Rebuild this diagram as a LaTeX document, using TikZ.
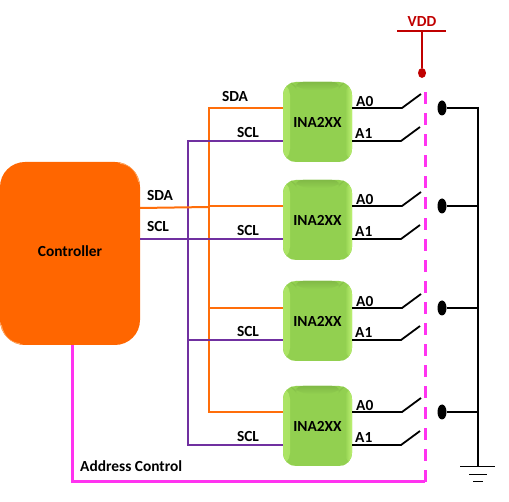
\documentclass[tikz,border=0pt]{standalone}
\usepackage{fontspec}
\setmainfont{Carlito}
\usepackage{xcolor}
\usetikzlibrary{positioning, shapes.geometric}
\definecolor{chipcolor}{RGB}{146,208,80}
\definecolor{chipedge}{RGB}{190,242,115}
\definecolor{chiptop}{RGB}{128,184,70}
\definecolor{ctrlcolor}{RGB}{255,102,0}
\definecolor{ctrledge}{RGB}{255,170,100}
\definecolor{sdacolor}{RGB}{255,110,10}
\definecolor{sclcolor}{RGB}{112,48,160}
\definecolor{addrcolor}{RGB}{255,51,240}
\definecolor{vddcolor}{RGB}{192,0,0}
\tikzset{
    labelfont/.style={font=\bfseries\fontsize{15.4}{16}\selectfont},
    chipbox/.style={draw=none, fill=chipcolor, rounded corners=13pt, minimum width=69pt, minimum height=80pt, inner sep=0pt, labelfont,
        path picture={
            \fill[left color=chipedge!60!chipcolor, right color=chipcolor] (path picture bounding box.south west) rectangle ([xshift=7pt]path picture bounding box.north west);
            \fill[left color=chipcolor, right color=chipedge] ([xshift=-7pt]path picture bounding box.south east) rectangle (path picture bounding box.north east);
            \fill[top color=chiptop, bottom color=chipcolor, opacity=0.9] ([xshift=7pt]path picture bounding box.north west) -- ([xshift=-7pt]path picture bounding box.north east) -- ([xshift=-14pt,yshift=-8pt]path picture bounding box.north east) -- ([xshift=14pt,yshift=-8pt]path picture bounding box.north west) -- cycle;
        }},
    ctrlbox/.style={draw=none, fill=ctrlcolor, rounded corners=25pt, minimum width=140pt, minimum height=183pt, inner sep=0pt, labelfont,
        path picture={
            \draw[ctrledge, line width=1.5pt] ([xshift=-20pt,yshift=-1pt]path picture bounding box.north east) .. controls ([xshift=-10pt,yshift=-2pt]path picture bounding box.north east) and ([xshift=-3pt,yshift=-9pt]path picture bounding box.north east) .. ([xshift=-1pt,yshift=-20pt]path picture bounding box.north east);
            \draw[ctrledge, line width=1.5pt] ([xshift=1pt,yshift=20pt]path picture bounding box.south west) .. controls ([xshift=3pt,yshift=9pt]path picture bounding box.south west) and ([xshift=10pt,yshift=2pt]path picture bounding box.south west) .. ([xshift=20pt,yshift=1pt]path picture bounding box.south west);
        }},
    wirelabel/.style={labelfont, inner sep=0pt},
    sda/.style={draw=sdacolor, line width=2pt},
    scl/.style={draw=sclcolor, line width=2pt},
    addr/.style={draw=addrcolor, line width=3pt},
    switchline/.style={draw=black, line width=1.8pt},
    contact/.style={ellipse, fill, minimum width=9pt, minimum height=15pt, inner sep=0pt}
}
\begin{document}
\begin{tikzpicture}[x=1pt, y=-1pt]
    \useasboundingbox (0,0) rectangle (509,502);

    % Controller and the four chips
    \node[ctrlbox] (ctrl) at (70,253.5) {\raisebox{5pt}{Controller}};
    \foreach \name/\cy in {chipa/122, chipb/220, chipc/321, chipd/426} {
        \node[chipbox] (\name) at (317.5,\cy) {\raisebox{-1.5pt}{INA2XX}};
    }

    % Bus trunks
    \coordinate (sdatop) at (209,108);
    \coordinate (sdabot) at (209,412);
    \coordinate (scltop) at (188,141);
    \coordinate (sclbot) at (188,445);
    \draw[sda, line cap=rect] (sdatop) -- (sdabot);
    \draw[scl, line cap=rect] (scltop) -- (sclbot);
    \draw[sda] (ctrl.east |- 0,208) -- (209,207);
    \draw[scl] (ctrl.east |- 0,239) -- (188,239);

    % Chip rows: A0/SDA height, A1/SCL height
    \foreach \name/\ya/\yb in {chipa/108/141, chipb/206/239, chipc/308/340, chipd/412/445} {
        \draw[sda] (209,\ya) -- (\name.west |- 0,\ya);
        \draw[scl] (188,\yb) -- (\name.west |- 0,\yb);
        % Address switches
        \draw[switchline] (\name.east |- 0,\ya) -- (402,\ya) -- (421,\ya-14);
        \draw[switchline] (\name.east |- 0,\yb) -- (401,\yb) -- (420,\yb-14);
        \node[wirelabel, anchor=west] (\name a0) at (356,\ya-6) {A0};
        \node[wirelabel, anchor=west] (\name a1) at (355,\yb-7) {A1};
        \node[wirelabel] (\name scl) at (248,\yb-8) {SCL};
        % Contact to the ground rail
        \node[contact] (\name pin) at (442,\ya) {};
        \draw[switchline] (\name pin) -- (478,\ya);
    }

    % Ground rail
    \coordinate (gnd) at (478,467);
    \draw[switchline] (478,107) -- (gnd);
    \draw[line width=1pt] (460,467) -- (495,467);
    \draw[line width=1pt] (469,474.5) -- (487,474.5);
    \draw[line width=1pt] (473,482) -- (483,482);

    % Address control line
    \coordinate (addrcorner) at (72,482);
    \coordinate (addrend) at (425,482);
    \draw[addr] (ctrl.south -| 72,0) -- (addrcorner) -- (addrend);
    \draw[addr, dash pattern=on 12pt off 9pt] (addrend) -- (425,85);

    % VDD
    \node[labelfont, text=vddcolor, inner sep=0pt] (vdd) at (422,21.5) {VDD};
    \node[ellipse, fill=vddcolor, minimum width=8pt, minimum height=10pt, inner sep=0pt] (vdddot) at (422,73) {};
    \draw[vddcolor, line width=1.8pt] (397,31) -- (446,31);
    \draw[vddcolor, line width=1.8pt] (422,31) -- (vdddot);

    % Labels
    \node[wirelabel] (sdatoplabel) at (235,96.5) {SDA};
    \node[wirelabel] (sdalabel) at (160,195.5) {SDA};
    \node[wirelabel] (scllabel) at (158,226.5) {SCL};
    \node[wirelabel, anchor=west] (addrlabel) at (80,466.5) {Address Control};

\end{tikzpicture}
\end{document}
